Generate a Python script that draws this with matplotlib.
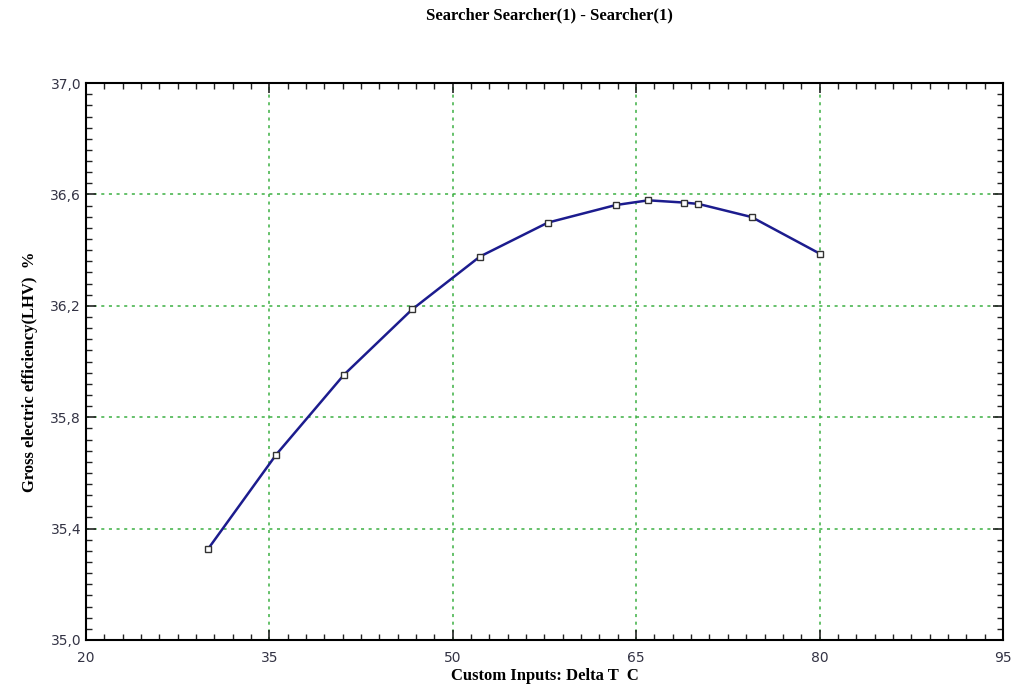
import matplotlib
matplotlib.use("Agg")
import matplotlib.pyplot as plt
from matplotlib.ticker import MultipleLocator, FuncFormatter

# Searcher output: Delta T [C] vs gross electric efficiency (LHV) [%]
delta_t = [30.0, 35.56, 41.11, 46.67, 52.22, 57.78, 63.33, 66.0, 68.89, 70.1, 74.44, 80.0]
efficiency = [35.328, 35.666, 35.953, 36.187, 36.377, 36.499, 36.562, 36.579, 36.571, 36.566, 36.519, 36.388]

fig = plt.figure(figsize=(10.12, 6.85), dpi=100)
ax = fig.add_axes([0.085, 0.0657, 0.906, 0.813])

ax.plot(delta_t, efficiency, color="#1c1c8e", lw=1.8, zorder=3)
ax.plot(delta_t, efficiency, ls="none", marker="s", ms=5, mfc="white",
        mec="#333333", mew=1.0, zorder=4)

ax.set_xlim(20, 95)
ax.set_ylim(35.0, 37.0)
ax.xaxis.set_major_locator(MultipleLocator(15, offset=5))
ax.xaxis.set_minor_locator(MultipleLocator(1.5, offset=0.5))
ax.yaxis.set_major_locator(MultipleLocator(0.4, offset=0.2))
ax.yaxis.set_minor_locator(MultipleLocator(0.04))
ax.yaxis.set_major_formatter(FuncFormatter(lambda v, p: f"{v:.1f}".replace(".", ",")))
ax.xaxis.set_major_formatter(FuncFormatter(lambda v, p: f"{v:.0f}"))

ax.tick_params(which="both", direction="in", top=True, right=True,
               colors="#222222", labelcolor="#333344", labelsize=10)
ax.tick_params(which="major", length=7, width=1.2)
ax.tick_params(which="minor", length=4, width=1.0)
for t in ax.get_xticklabels() + ax.get_yticklabels():
    t.set_fontfamily("DejaVu Sans")
ax.tick_params(axis="x", pad=8)

for sp in ax.spines.values():
    sp.set_linewidth(1.5)
    sp.set_color("black")

ax.grid(which="major", color="#3cb043", ls=(0, (2, 3)), lw=1.1)

serif = {"family": "Liberation Serif", "weight": "bold", "size": 12}
fig.text(0.5425, 0.977, "Searcher Searcher(1) - Searcher(1)", ha="center", va="center", **serif)
ax.set_xlabel("Custom Inputs: Delta T  C", labelpad=2, **serif)
ax.set_ylabel("Gross electric efficiency(LHV)  %", **serif)
ax.yaxis.set_label_coords(-0.052, 0.481)

fig.savefig("out.png", dpi=100)
